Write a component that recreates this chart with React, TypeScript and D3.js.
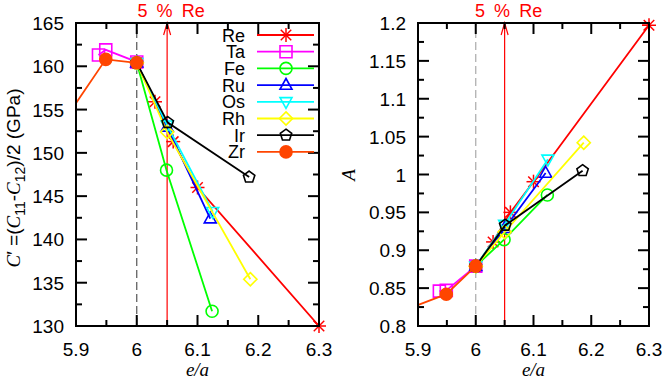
import React, { useEffect, useRef } from "react";
import * as d3 from "d3";

// e/a and values per solute
const names = ["Re", "Ta", "Fe", "Ru", "Os", "Rh", "Ir", "Zr"];
const colors = ["#ff0000", "#ff00ff", "#00ff00", "#0000ff", "#00ffff", "#ffff00", "#000000", "#ff4500"];
const shapes = ["star", "square", "circle", "triangle", "itriangle", "diamond", "pentagon", "dot"];

const reX = [6.0, 6.03, 6.06, 6.1, 6.3];
const reC = [160.4, 155.9, 151.3, 146.0, 130.0];
const reA = [0.879, 0.911, 0.95, 0.9905, 1.197];

const taX = [5.937, 5.949, 6.0];
const taC = [161.3, 161.9, 160.5];
const taA = [0.846, 0.847, 0.879];

const feX = [6.0, 6.049, 6.124];
const feC = [160.4, 148.0, 131.7];
const feA = [0.879, 0.914, 0.973];

const ruX = [6.0, 6.05, 6.121];
const ruC = [160.4, 153.0, 142.4];
const ruA = [0.879, 0.929, 1.002];

const osX = [6.0, 6.05, 6.125];
const osC = [160.4, 153.2, 143.2];
const osA = [0.879, 0.934, 1.02];

const rhX = [6.0, 6.05, 6.187];
const rhC = [160.4, 152.4, 135.4];
const rhA = [0.879, 0.924, 1.042];

const irX = [6.0, 6.051, 6.185];
const irC = [160.4, 153.5, 147.2];
const irA = [0.879, 0.933, 1.005];

const zrX = [5.85, 5.949, 6.0];
const zrC = [150.6, 160.8, 160.4];
const zrA = [0.813, 0.842, 0.879];

const xs = [reX, taX, feX, ruX, osX, rhX, irX, zrX];
const cs = [reC, taC, feC, ruC, osC, rhC, irC, zrC];
const as = [reA, taA, feA, ruA, osA, rhA, irA, zrA];

const xTicks = [5.9, 6, 6.1, 6.2, 6.3];
const cTicks = [130, 135, 140, 145, 150, 155, 160, 165];
const aTicks = [0.8, 0.85, 0.9, 0.95, 1, 1.05, 1.1, 1.15, 1.2];

const width = 667;
const height = 381;
const font = "'Liberation Sans', Arial, Helvetica, sans-serif";
const serif = "'Liberation Serif', 'Times New Roman', serif";

function marker(g, shape, x, y, color) {
  const s = 6;
  const sw = 1.6;
  if (shape === "star") {
    const p = g.append("g").attr("stroke", color).attr("stroke-width", 1.5);
    const r = 7;
    p.append("line").attr("x1", x - r).attr("x2", x + r).attr("y1", y).attr("y2", y);
    p.append("line").attr("x1", x).attr("x2", x).attr("y1", y - r).attr("y2", y + r);
    p.append("line").attr("x1", x - r * 0.75).attr("x2", x + r * 0.75).attr("y1", y - r * 0.75).attr("y2", y + r * 0.75);
    p.append("line").attr("x1", x - r * 0.75).attr("x2", x + r * 0.75).attr("y1", y + r * 0.75).attr("y2", y - r * 0.75);
    return;
  }
  let pts = null;
  if (shape === "square") pts = [[-s, -s], [s, -s], [s, s], [-s, s]];
  if (shape === "diamond") pts = [[0, -s * 1.1], [s * 1.1, 0], [0, s * 1.1], [-s * 1.1, 0]];
  if (shape === "triangle") pts = [[0, -s * 1.1], [s, s * 0.7], [-s, s * 0.7]];
  if (shape === "itriangle") pts = [[0, s * 1.1], [s, -s * 0.7], [-s, -s * 0.7]];
  if (shape === "pentagon")
    pts = d3.range(5).map(i => {
      const t = -Math.PI / 2 + (i * 2 * Math.PI) / 5;
      return [s * Math.cos(t), s * Math.sin(t)];
    });
  if (pts) {
    g.append("polygon")
      .attr("points", pts.map(p => `${x + p[0]},${y + p[1]}`).join(" "))
      .attr("fill", "none")
      .attr("stroke", color)
      .attr("stroke-width", sw);
    return;
  }
  g.append("circle")
    .attr("cx", x)
    .attr("cy", y)
    .attr("r", s)
    .attr("fill", shape === "dot" ? color : "none")
    .attr("stroke", color)
    .attr("stroke-width", sw);
}

function panel(svg, id, box, yDomain, yTicks, yMinor, ys, dashColor, legend) {
  const x = d3.scaleLinear().domain([5.9, 6.3]).range([box.l, box.r]);
  const y = d3.scaleLinear().domain(yDomain).range([box.b, box.t]);

  svg.append("clipPath").attr("id", id).append("rect")
    .attr("x", box.l).attr("y", box.t).attr("width", box.r - box.l).attr("height", box.b - box.t);

  // dashed line at e/a = 6
  svg.append("line")
    .attr("x1", x(6)).attr("x2", x(6)).attr("y1", box.b).attr("y2", box.t)
    .attr("stroke", dashColor).attr("stroke-width", 1.2).attr("stroke-dasharray", "8,4");

  // 5 % Re arrow
  const ax = x(6.05);
  svg.append("line").attr("x1", ax).attr("x2", ax).attr("y1", box.b).attr("y2", box.t)
    .attr("stroke", "#ff0000").attr("stroke-width", 1.2);
  svg.append("path")
    .attr("d", `M${ax - 3.5},${box.t + 12}L${ax},${box.t}L${ax + 3.5},${box.t + 12}`)
    .attr("fill", "none").attr("stroke", "#ff0000").attr("stroke-width", 1.2);
  svg.append("text").attr("x", ax + 4).attr("y", 17).attr("text-anchor", "middle")
    .attr("fill", "#ff0000").attr("font-size", 18).attr("font-family", font)
    .attr("word-spacing", 4).attr("xml:space", "preserve").text("5 % Re");

  // data
  const line = d3.line().x(d => x(d[0])).y(d => y(d[1]));
  const dg = svg.append("g").attr("clip-path", `url(#${id})`);
  names.forEach((n, i) => {
    const pts = xs[i].map((v, j) => [v, ys[i][j]]);
    const g = dg.append("g");
    g.append("path").attr("d", line(pts)).attr("fill", "none")
      .attr("stroke", colors[i]).attr("stroke-width", 1.8);
    pts.forEach(p => marker(g, shapes[i], x(p[0]), y(p[1]), colors[i]));
  });
  // markers sitting on the frame are drawn whole
  names.forEach((n, i) => {
    xs[i].forEach((v, j) => {
      const px = x(v), py = y(ys[i][j]);
      if ((Math.abs(px - box.r) < 1 || Math.abs(py - box.t) < 1 || Math.abs(py - box.b) < 1) && v <= 6.3)
        marker(svg.append("g"), shapes[i], px, py, colors[i]);
    });
  });

  // frame and ticks
  const fg = svg.append("g").attr("stroke", "#000").attr("stroke-width", 2);
  fg.append("rect").attr("x", box.l).attr("y", box.t).attr("width", box.r - box.l)
    .attr("height", box.b - box.t).attr("fill", "none");
  d3.range(5.9, 6.3001, 0.05).forEach((v, i) => {
    const len = i % 2 === 0 ? 11 : 6;
    fg.append("line").attr("x1", x(v)).attr("x2", x(v)).attr("y1", box.b).attr("y2", box.b - len);
    fg.append("line").attr("x1", x(v)).attr("x2", x(v)).attr("y1", box.t).attr("y2", box.t + len);
  });
  yMinor.forEach((v, i) => {
    const len = i % 2 === 0 ? 11 : 6;
    fg.append("line").attr("x1", box.l).attr("x2", box.l + len).attr("y1", y(v)).attr("y2", y(v));
    fg.append("line").attr("x1", box.r).attr("x2", box.r - len).attr("y1", y(v)).attr("y2", y(v));
  });

  const tg = svg.append("g").attr("font-family", font).attr("font-size", 19).attr("fill", "#000");
  xTicks.forEach(v => {
    tg.append("text").attr("x", x(v)).attr("y", box.b + 30).attr("text-anchor", "middle").text(String(v));
  });
  yTicks.forEach(v => {
    tg.append("text").attr("x", box.l - 12).attr("y", y(v) + 7).attr("text-anchor", "end").text(String(v));
  });
  tg.append("text").attr("x", (box.l + box.r) / 2).attr("y", box.b + 50).attr("text-anchor", "middle")
    .attr("font-family", serif).attr("font-style", "italic").text("e/a");

  if (legend) {
    const lg = svg.append("g").attr("font-family", font).attr("font-size", 18);
    names.forEach((n, i) => {
      const ly = 35 + i * 16.7;
      lg.append("text").attr("x", 245).attr("y", ly + 6.5).attr("text-anchor", "end").text(n);
      lg.append("line").attr("x1", 257).attr("x2", 314).attr("y1", ly).attr("y2", ly)
        .attr("stroke", colors[i]).attr("stroke-width", 1.8);
      marker(lg, shapes[i], 286, ly, colors[i]);
    });
  }
}

const App = () => {
  const chart = useRef(null);
  useEffect(() => {
    const svg = d3.select(chart.current);
    svg.selectAll("*").remove();

    panel(svg, "clipL", { l: 76, r: 319, t: 23, b: 326 }, [130, 165], cTicks,
      d3.range(130, 165.01, 2.5), cs, "#555", true);
    panel(svg, "clipR", { l: 418, r: 649, t: 23, b: 326 }, [0.8, 1.2], aTicks,
      d3.range(0.8, 1.2001, 0.025), as, "#aaa", false);

    // y labels
    const yl = svg.append("text").attr("transform", "translate(20,178) rotate(-90)")
      .attr("text-anchor", "middle").attr("font-size", 19).attr("font-family", font);
    yl.append("tspan").attr("font-family", serif).attr("font-style", "italic").text("C");
    yl.append("tspan").text("\u2032 =(");
    yl.append("tspan").attr("font-family", serif).attr("font-style", "italic").text("C");
    yl.append("tspan").attr("font-size", 14).attr("dy", 5).text("11");
    yl.append("tspan").attr("dy", -5).text("-");
    yl.append("tspan").attr("font-family", serif).attr("font-style", "italic").text("C");
    yl.append("tspan").attr("font-size", 14).attr("dy", 5).text("12");
    yl.append("tspan").attr("dy", -5).text(")/2 (GPa)");

    svg.append("text").attr("transform", "translate(355,175) rotate(-90)")
      .attr("text-anchor", "middle").attr("font-size", 19)
      .attr("font-family", serif).attr("font-style", "italic").text("A");
  }, []);

  return (
    <svg ref={chart} width={width} height={height} viewBox={`0 0 ${width} ${height}`}
      style={{ position: "absolute", left: 0, top: 0, background: "#fff" }}></svg>
  );
};

export default App;
